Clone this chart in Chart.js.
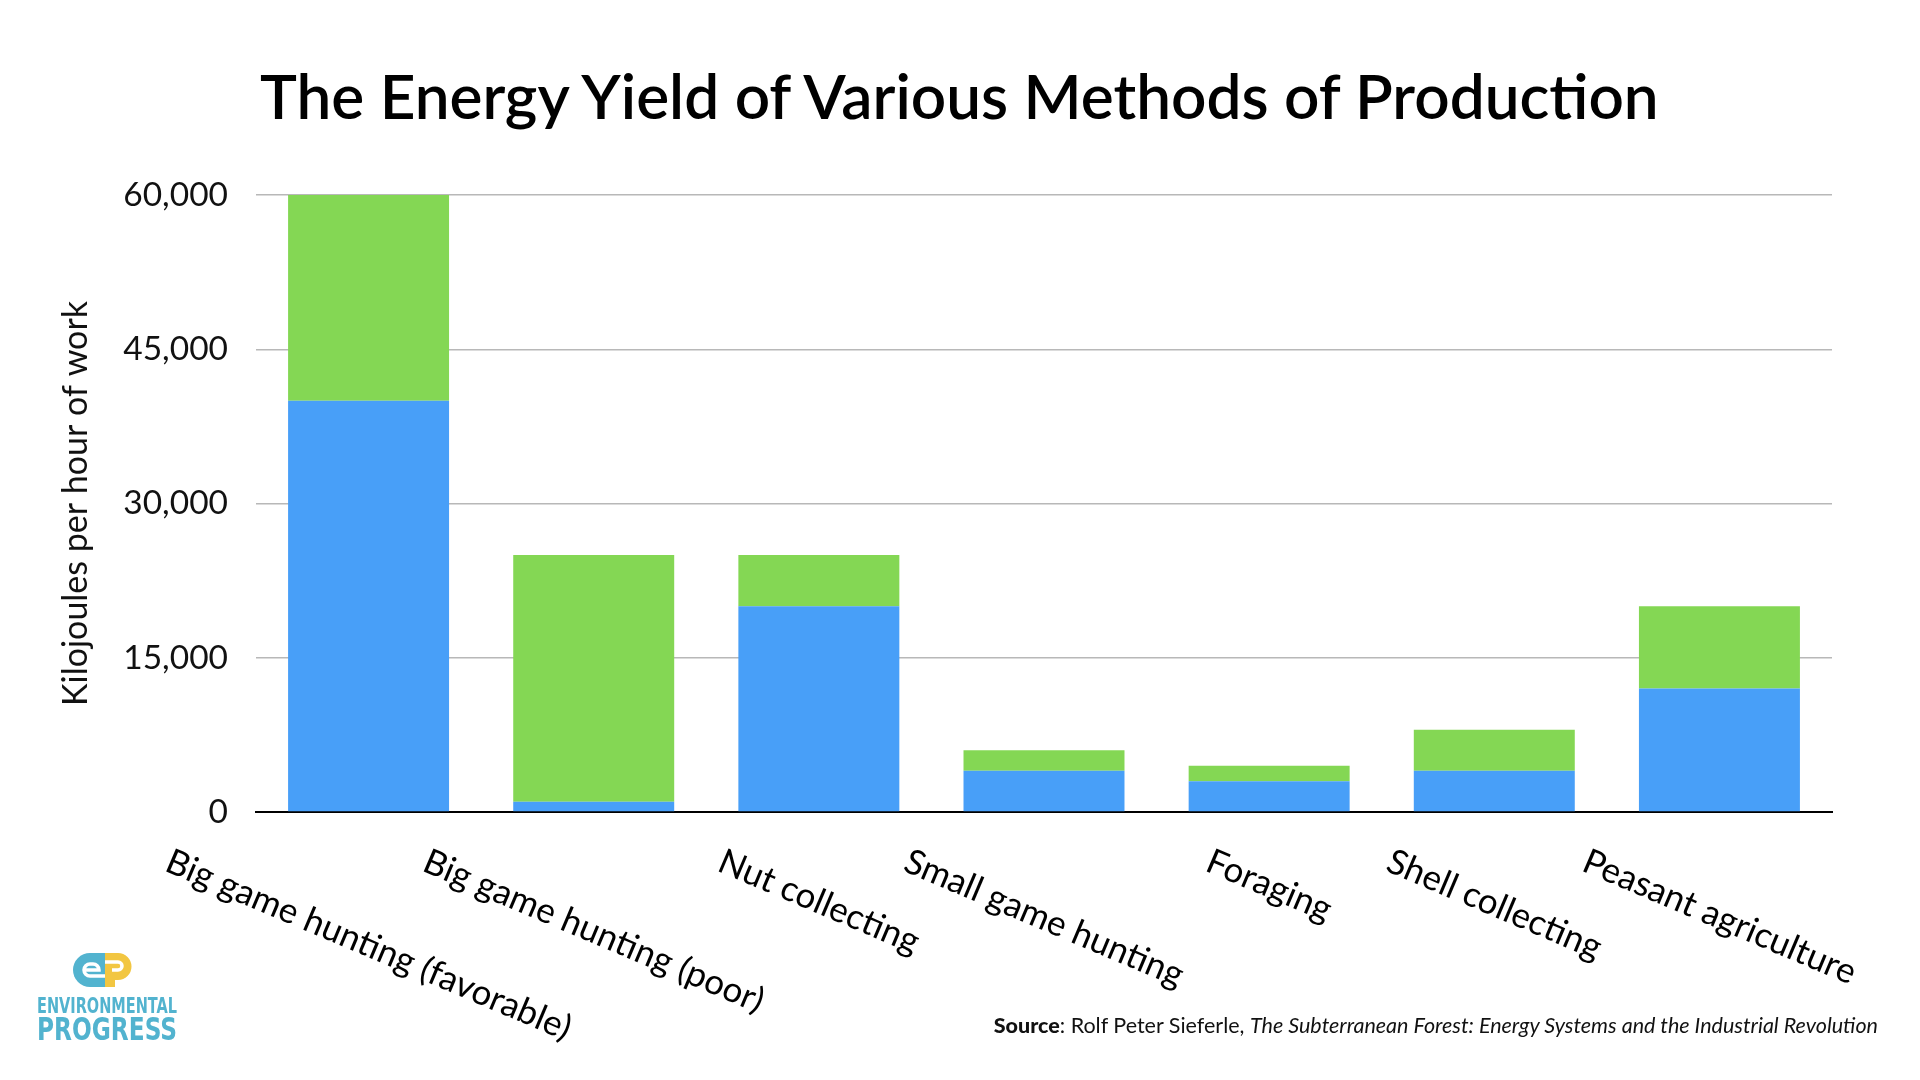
<!DOCTYPE html>
<html><head><meta charset="utf-8">
<script src="https://cdn.jsdelivr.net/npm/chart.js@4.4.1/dist/chart.umd.min.js"></script>
<style>
html,body{margin:0;padding:0;background:#fff;}
#wrap{position:relative;width:1920px;height:1080px;overflow:hidden;background:#fff;}
#c{position:absolute;left:0;top:0;}
#title{position:absolute;left:260px;top:64px;font-family:Lato,sans-serif;font-weight:600;font-size:62px;line-height:1;color:#000;white-space:nowrap;}
#source{position:absolute;right:42px;top:1015px;font-family:Lato,sans-serif;font-size:21.5px;line-height:1;color:#111;white-space:nowrap;}
#source b{font-weight:900;}
#logo{position:absolute;left:0;top:0;width:200px;}
#logo .l{position:absolute;left:37px;font-family:"DejaVu Sans Condensed","DejaVu Sans",sans-serif;font-weight:bold;line-height:1;color:#52b3cf;white-space:nowrap;transform-origin:0 0;}
#logo .l1{top:995px;font-size:22px;}
#logo .l2{top:1014px;font-size:31.5px;}
</style>
</head><body>
<div id="wrap">
<canvas id="c" width="1920" height="1080"></canvas>
<div id="title">The Energy Yield of Various Methods of Production</div>
<div id="logo">
<svg width="64" height="36" viewBox="0 0 64 36" style="position:absolute;left:72px;top:952px">
<path d="M18 1 H33 V35 H18 A17 17 0 0 1 18 1 Z" fill="#52b3cf"/>
<path d="M33 1 H46 A13.5 13.5 0 0 1 46 28 H43 V35 H33 Z" fill="#f2c641"/>
<path d="M12 18 H27 A6 6 0 0 0 21 12 H18 A6 6 0 0 0 18 24 H33" stroke="#fff" stroke-width="3.5" fill="none"/>
<path d="M33 10 H46 A4 4 0 0 1 46 18 H40" stroke="#fff" stroke-width="3.5" fill="none"/>
</svg>
<div class="l l1">ENVIRONMENTAL</div>
<div class="l l2">PROGRESS</div>
</div>
<div id="source"><b>Source</b>: Rolf Peter Sieferle, <i>The Subterranean Forest: Energy Systems and the Industrial Revolution</i></div>
</div>
<script>
const categories = ['Big game hunting (favorable)','Big game hunting (poor)','Nut collecting','Small game hunting','Foraging','Shell collecting','Peasant agriculture'];
const lowerValues = [40000,1000,20000,4000,3000,4000,12000];
const upperValues = [20000,24000,5000,2000,1500,4000,8000];
const yTickValues = [0,15000,30000,45000,60000];
const yTitle = 'Kilojoules per hour of work';

(function fitText() {
  const t = document.getElementById('title');
  const w = t.getBoundingClientRect().width;
  t.style.fontSize = (62 * 1399 / w).toFixed(2) + 'px';
  document.querySelectorAll('#logo .l').forEach(el => {
    const ww = el.getBoundingClientRect().width;
    el.style.transform = 'scaleX(' + (140 / ww).toFixed(4) + ')';
  });
})();

const rotatedLabels = {
  id: 'rotatedLabels',
  afterDraw(chart) {
    const ctx = chart.ctx;
    const xs = chart.scales.x;
    const ang = 23 * Math.PI / 180;
    const h = 41;
    ctx.save();
    ctx.font = '35px Lato';
    ctx.fillStyle = '#000';
    ctx.textAlign = 'center';
    ctx.textBaseline = 'middle';
    const top = chart.chartArea.bottom + 29;
    categories.forEach((lab, i) => {
      const x = xs.getPixelForTick(i);
      const w = ctx.measureText(lab).width;
      const H = w * Math.sin(ang) + h * Math.cos(ang);
      ctx.save();
      ctx.translate(x, top + H / 2);
      ctx.rotate(ang);
      ctx.fillText(lab, 0, 0);
      ctx.restore();
    });
    ctx.restore();
  }
};

new Chart(document.getElementById('c'), {
  type: 'bar',
  data: {
    labels: categories,
    datasets: [
      { label: 'Lower', data: lowerValues, backgroundColor: '#489ff8', barPercentage: 0.715, categoryPercentage: 1 },
      { label: 'Upper', data: upperValues, backgroundColor: '#84d754', barPercentage: 0.715, categoryPercentage: 1 }
    ]
  },
  options: {
    responsive: false,
    animation: false,
    layout: { padding: { left: 0, right: 88, top: 195, bottom: 268 } },
    plugins: { legend: { display: false }, tooltip: { enabled: false } },
    scales: {
      x: {
        stacked: true,
        grid: { display: false, drawTicks: false },
        border: { display: true, color: '#000', width: 2 },
        ticks: { display: false },
        afterFit(s) { s.height = 0; }
      },
      y: {
        stacked: true,
        min: 0, max: 60000,
        afterBuildTicks(s) { s.ticks = yTickValues.map(v => ({ value: v })); },
        ticks: {
          padding: 28,
          font: { family: 'Lato', size: 33.5 },
          color: '#111',
          callback: v => v.toLocaleString('en-US')
        },
        grid: { color: c => c.tick && c.tick.value === 0 ? 'rgba(0,0,0,0)' : '#b8b8b8', lineWidth: 1.5, drawTicks: false },
        border: { display: false },
        title: { display: true, text: yTitle, font: { family: 'Lato', size: 34 }, color: '#111', padding: { top: 56, bottom: 0 } },
        afterFit(s) { s.width = 256; }
      }
    }
  },
  plugins: [rotatedLabels]
});
</script>
</body></html>
